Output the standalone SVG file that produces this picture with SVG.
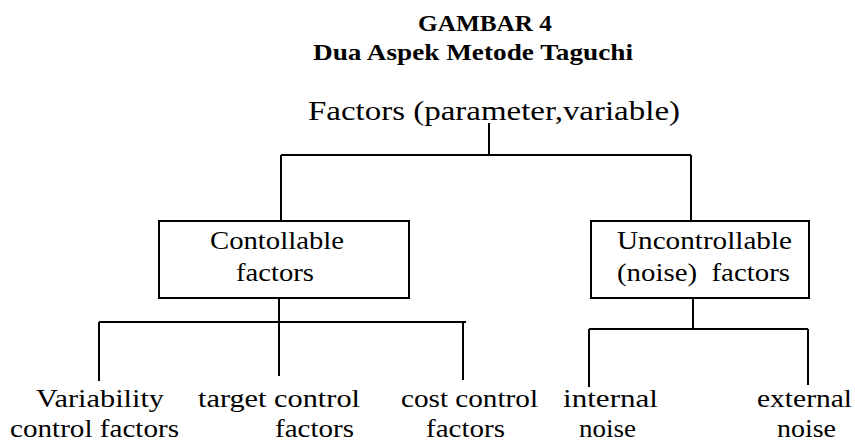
<svg xmlns="http://www.w3.org/2000/svg" width="855" height="443" viewBox="0 0 855 443">
<style>
.t{font-family:"Liberation Serif","DejaVu Serif",serif;fill:#000}
.title{font-weight:bold;font-size:23px}
.lbl{font-size:27px}
.bx{font-size:25px}
.leaf{font-size:26px}
.box{fill:#fff;stroke:#000;stroke-width:2}
.ln{stroke:#000;stroke-width:2;fill:none}
</style>
<rect width="855" height="443" fill="#fff"/>
<g id="title">
<text class="t title" x="418" y="31" textLength="134" lengthAdjust="spacingAndGlyphs">GAMBAR 4</text>
<text class="t title" x="313" y="60" textLength="320" lengthAdjust="spacingAndGlyphs">Dua Aspek Metode Taguchi</text>
</g>
<g id="connectors">
<path class="ln" d="M489 123V155M281 155H691M281 155V221M691 155V221"/>
<path class="ln" d="M279 298V376M99 322H466M99 322V381M463 322V380"/>
<path class="ln" d="M693 298V330M589 329H808M589 329V387M808 329V385"/>
</g>
<g id="factors">
<text class="t lbl" x="308" y="120" textLength="372" lengthAdjust="spacingAndGlyphs">Factors (parameter,variable)</text>
</g>
<g id="controllable">
<rect class="box" x="159" y="221" width="250" height="77"/>
<text class="t bx" x="210" y="249" textLength="134" lengthAdjust="spacingAndGlyphs">Contollable</text>
<text class="t bx" x="236" y="281" textLength="78" lengthAdjust="spacingAndGlyphs">factors</text>
</g>
<g id="uncontrollable">
<rect class="box" x="591" y="221" width="218" height="77"/>
<text class="t bx" x="617" y="249" textLength="175" lengthAdjust="spacingAndGlyphs">Uncontrollable</text>
<text class="t bx" x="617" y="281" textLength="173" lengthAdjust="spacingAndGlyphs" xml:space="preserve">(noise)  factors</text>
</g>
<g id="variability">
<text class="t leaf" x="36" y="407" textLength="128" lengthAdjust="spacingAndGlyphs">Variability</text>
<text class="t leaf" x="10" y="437" textLength="169" lengthAdjust="spacingAndGlyphs">control factors</text>
</g>
<g id="target">
<text class="t leaf" x="198" y="407" textLength="162" lengthAdjust="spacingAndGlyphs">target control</text>
<text class="t leaf" x="275" y="437" textLength="79" lengthAdjust="spacingAndGlyphs">factors</text>
</g>
<g id="cost">
<text class="t leaf" x="401" y="407" textLength="137" lengthAdjust="spacingAndGlyphs">cost control</text>
<text class="t leaf" x="426" y="437" textLength="79" lengthAdjust="spacingAndGlyphs">factors</text>
</g>
<g id="internal">
<text class="t leaf" x="563" y="407" textLength="95" lengthAdjust="spacingAndGlyphs">internal</text>
<text class="t leaf" x="579" y="437" textLength="57" lengthAdjust="spacingAndGlyphs">noise</text>
</g>
<g id="external">
<text class="t leaf" x="757" y="407" textLength="95" lengthAdjust="spacingAndGlyphs">external</text>
<text class="t leaf" x="777" y="437" textLength="59" lengthAdjust="spacingAndGlyphs">noise</text>
</g>
</svg>
